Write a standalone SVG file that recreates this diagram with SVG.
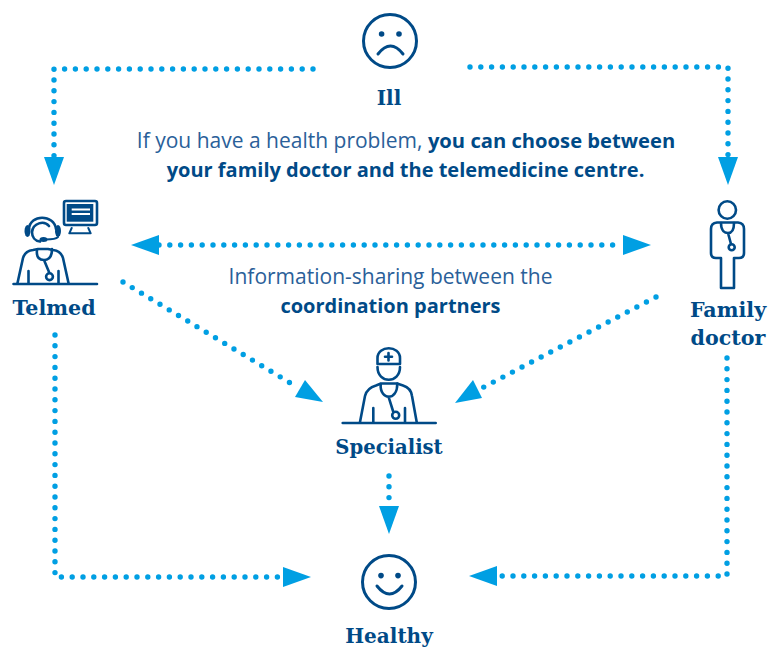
<svg xmlns="http://www.w3.org/2000/svg" width="768" height="648" viewBox="0 0 768 648">
<defs>
<style>
.dot{fill:none;stroke:#009fe3;stroke-width:5.4;stroke-linecap:round;stroke-dasharray:0 10.8}
.head{fill:#009fe3}
.ic{fill:none;stroke:#004a87;stroke-width:2.6;stroke-linecap:round;stroke-linejoin:round}
.fc{fill:#004a87}
.lb{font-family:"DejaVu Serif","Liberation Serif",serif;font-weight:700;font-size:20px;fill:#004a87;text-anchor:middle}
.wide{font-size:20.6px}
.tx{font-family:"Open Sans","Noto Sans",sans-serif;font-size:21px;fill:#2a6099;text-anchor:middle}
.b{font-weight:700;fill:#004a87;font-size:20px}
</style>
</defs>
<rect width="768" height="648" fill="#ffffff"/>
<g id="connectors">
<path class="dot" d="M313 69H54V158"/><polygon class="head" points="44,157 64,157 54,185"/>
<path class="dot" d="M470 67H728V158"/><polygon class="head" points="718,157 738,157 728,185"/>
<path class="dot" d="M159 245H623"/><polygon class="head" points="159,235 159,255 131,245"/><polygon class="head" points="623,235 623,255 651,245"/>
<path class="dot" d="M123 282L297 387"/><polygon class="head" points="305,380 295,397 323,402"/>
<path class="dot" d="M656 297L482 388"/><polygon class="head" points="473,380 482,398 455,403"/>
<path class="dot" d="M389 476V505"/><polygon class="head" points="379,506 399,506 389,534"/>
<path class="dot" d="M55 335V577H283"/><polygon class="head" points="283,567 283,587 311,577"/>
<path class="dot" d="M727 358V576H497"/><polygon class="head" points="497,566 497,586 469,576"/>
</g>
<g id="node-ill">
<circle class="ic" cx="390" cy="41" r="26.5" style="stroke-width:3"/>
<circle class="fc" cx="381.600" cy="34" r="2.800"/><circle class="fc" cx="399" cy="34" r="2.800"/>
<path class="ic" style="stroke-width:3" d="M378 54Q390.500 38 403 54"/>
<text class="lb" x="389" y="105">Ill</text>
</g>
<g id="node-healthy">
<circle class="ic" cx="389" cy="582" r="26.5" style="stroke-width:3"/>
<circle class="fc" cx="381" cy="575.600" r="2.800"/><circle class="fc" cx="398" cy="575.600" r="2.800"/>
<path class="ic" style="stroke-width:3" d="M377 586Q389.500 602 402 586"/>
<text class="lb" x="389" y="643">Healthy</text>
</g>
<g id="node-telmed">
<rect class="ic" x="64" y="201" width="33" height="24" rx="2"/>
<rect class="fc" x="66.700" y="204" width="26.600" height="17.700"/>
<path d="M71.700 209.500H90M71.700 214H90" stroke="#fff" stroke-width="2" fill="none"/>
<path class="ic" style="stroke-width:2" d="M71.700 228L69.300 233.300H90.700L88.300 228"/>
<path class="ic" d="M29 229C30 214 54 214 56 229"/>
<path class="ic" d="M49 226C44 220 33 223 32 232C32 237 35 241 40 241.500"/>
<path class="ic" style="stroke-width:2" d="M58 237C56 239 52 239.500 46 239.500"/>
<ellipse class="fc" cx="27.500" cy="231" rx="3" ry="6"/><ellipse class="fc" cx="58" cy="231" rx="3" ry="6"/>
<ellipse class="fc" cx="43.500" cy="239.500" rx="4" ry="2.500"/>
<path class="ic" d="M17.500 283L23 258Q25 251 33 250L38 249H48L53 250Q61 251 63 258L68.500 283"/>
<path class="ic" d="M13.500 284H97M28.500 271V283M58.500 271V283"/>
<path class="ic" d="M37 250C36 258 40 260 44 260M52 249C52 257 49 260 44 260L49 272"/>
<circle class="ic" cx="49.500" cy="276.700" r="3.400"/>
<text class="lb wide" x="54" y="315">Telmed</text>
</g>
<g id="node-family">
<circle class="ic" cx="727.300" cy="210" r="8.700"/>
<path class="ic" d="M721 288H734V258H739Q744 258 744 253V229Q744 223 738 222.500H717Q711 223 711 229V253Q711 258 716 258H721Z"/>
<path class="ic" d="M721 223C721 231 725 233 728 233C732 233 734 230 734 223M728 233L731 244"/>
<circle class="ic" cx="731.700" cy="247.300" r="3"/>
<text class="lb wide" x="728" y="317">Family</text>
<text class="lb wide" x="728" y="345">doctor</text>
</g>
<g id="node-specialist">
<path class="ic" d="M377.500 364V358C377.500 345 400 345 400 358V364Z"/>
<path class="ic" d="M385 356.700H392M388.500 353V360.500"/>
<path class="ic" d="M377.500 367C377.500 384 400 384 400 367"/>
<path class="ic" d="M360 422L365 396Q367 388 376 385.500L381 383.500H397L403 385.500Q411 388 412 396L416.700 422"/>
<path class="ic" d="M342.700 423H435.700M373.300 408V422M405 408V422"/>
<path class="ic" d="M380.700 384C380 393 385 396.700 388.500 396.700C393 396.700 397.300 393 397.300 383.500M388.500 396.700L393 411"/>
<circle class="ic" cx="395.700" cy="415.300" r="3.500"/>
<text class="lb" style="font-size:19.6px" x="389" y="454">Specialist</text>
</g>
<g id="text-notes">
<text class="tx" x="406" y="148">If you have a health problem, <tspan class="b" style="font-size:20.2px">you can choose between</tspan></text>
<text class="tx b" x="405.500" y="177">your family doctor and the telemedicine centre.</text>
<text class="tx" x="390.500" y="284">Information-sharing between the</text>
<text class="tx b" x="390.500" y="313">coordination partners</text>
</g>
</svg>
